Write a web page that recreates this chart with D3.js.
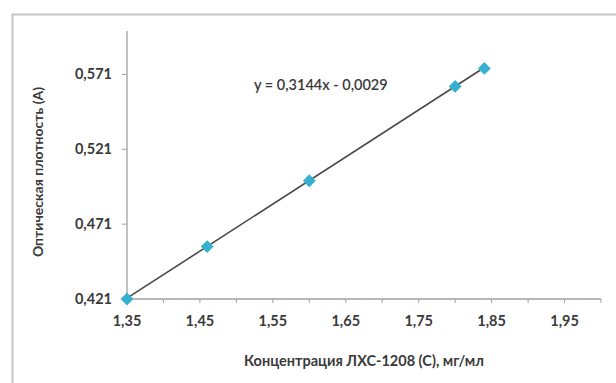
<!DOCTYPE html>
<html>
<head>
<meta charset="utf-8">
<script src="https://cdn.jsdelivr.net/npm/d3@7"></script>
<style>
  html, body { margin: 0; padding: 0; background: #fff; }
  svg { display: block; }
  text { font-family: Lato, "Open Sans", sans-serif; fill: #3a3a3a; }
</style>
</head>
<body>
<svg id="chart" width="616" height="383"></svg>
<script>
// Calibration data: concentration (mg/ml) vs optical density (A)
const concentration = [1.35, 1.46, 1.60, 1.80, 1.84];
const density = [0.421, 0.456, 0.500, 0.563, 0.575];

// Linear trendline coefficients
const slope = 0.3144;
const intercept = -0.0029;
const equationLabel = "y = 0,3144x - 0,0029";

const xTicks = [1.35, 1.45, 1.55, 1.65, 1.75, 1.85, 1.95];
const xMinorTicks = [1.40, 1.45, 1.50, 1.55, 1.60, 1.65, 1.70, 1.75, 1.80, 1.85, 1.90, 1.95, 2.00];
const yTicks = [0.421, 0.471, 0.521, 0.571];

const xTitle = "Концентрация ЛХС-1208 (С), мг/мл";
const yTitle = "Оптическая плотность (А)";

const svg = d3.select("#chart");
const fmt = (d, n) => d.toFixed(n).replace(".", ",");

// Outer chart frame
svg.append("rect")
  .attr("x", 12.5).attr("y", 14.5)
  .attr("width", 640).attr("height", 420)
  .attr("fill", "none").attr("stroke", "#c4c4c4").attr("stroke-width", 2);

const x = d3.scaleLinear().domain([1.35, 2.0]).range([127, 601]);
const y = d3.scaleLinear().domain([0.421, 0.6]).range([299, 31]);

// X axis: line + ticks every 0.05
const xAxisG = svg.append("g").attr("transform", `translate(0,${y(0.421)})`);
xAxisG.append("line")
  .attr("x1", x(1.35)).attr("x2", x(2.0))
  .attr("stroke", "#a0a0a0").attr("stroke-width", 1.3);
xAxisG.selectAll("line.tick").data(xMinorTicks).join("line")
  .attr("class", "tick")
  .attr("x1", d => x(d)).attr("x2", d => x(d))
  .attr("y1", 0).attr("y2", 4)
  .attr("stroke", "#a0a0a0").attr("stroke-width", 1);
xAxisG.selectAll("text").data(xTicks).join("text")
  .attr("x", d => x(d)).attr("y", 27)
  .attr("text-anchor", "middle")
  .attr("font-size", 14.5).attr("font-weight", 700)
  .text(d => fmt(d, 2));

// Y axis: line + ticks
const yAxisG = svg.append("g").attr("transform", `translate(${x(1.35)},0)`);
yAxisG.append("line")
  .attr("y1", y(0.421)).attr("y2", y(0.6))
  .attr("stroke", "#a0a0a0").attr("stroke-width", 1.3);
yAxisG.selectAll("line.tick").data(yTicks).join("line")
  .attr("class", "tick")
  .attr("x1", -5).attr("x2", 0)
  .attr("y1", d => y(d)).attr("y2", d => y(d))
  .attr("stroke", "#a0a0a0").attr("stroke-width", 1);
yAxisG.selectAll("text").data(yTicks).join("text")
  .attr("x", -15).attr("y", d => y(d))
  .attr("dy", "0.35em")
  .attr("text-anchor", "end")
  .attr("font-size", 14.5).attr("font-weight", 700)
  .text(d => fmt(d, 3));

// Trendline over the data range
const xr = d3.extent(concentration);
svg.append("line")
  .attr("x1", x(xr[0])).attr("y1", y(slope * xr[0] + intercept))
  .attr("x2", x(xr[1])).attr("y2", y(slope * xr[1] + intercept))
  .attr("stroke", "#4a4a4a").attr("stroke-width", 1.6);

// Data markers (diamonds)
const diamond = d3.symbol().type(d3.symbolDiamond2).size(105);
svg.selectAll("path.pt").data(concentration).join("path")
  .attr("class", "pt")
  .attr("transform", (d, i) => `translate(${x(d)},${y(density[i])})`)
  .attr("d", diamond)
  .attr("fill", "#35b1cf");

// Trendline equation
svg.append("text")
  .attr("x", 254).attr("y", 90)
  .attr("font-size", 14.5).attr("font-weight", 600)
  .text(equationLabel);

// Axis titles
svg.append("text")
  .attr("x", 364).attr("y", 366)
  .attr("text-anchor", "middle")
  .attr("font-size", 14.5).attr("font-weight", 700)
  .text(xTitle);

svg.append("text")
  .attr("transform", `translate(43,172) rotate(-90)`)
  .attr("text-anchor", "middle")
  .attr("font-size", 14).attr("font-weight", 700)
  .text(yTitle);
</script>
</body>
</html>
